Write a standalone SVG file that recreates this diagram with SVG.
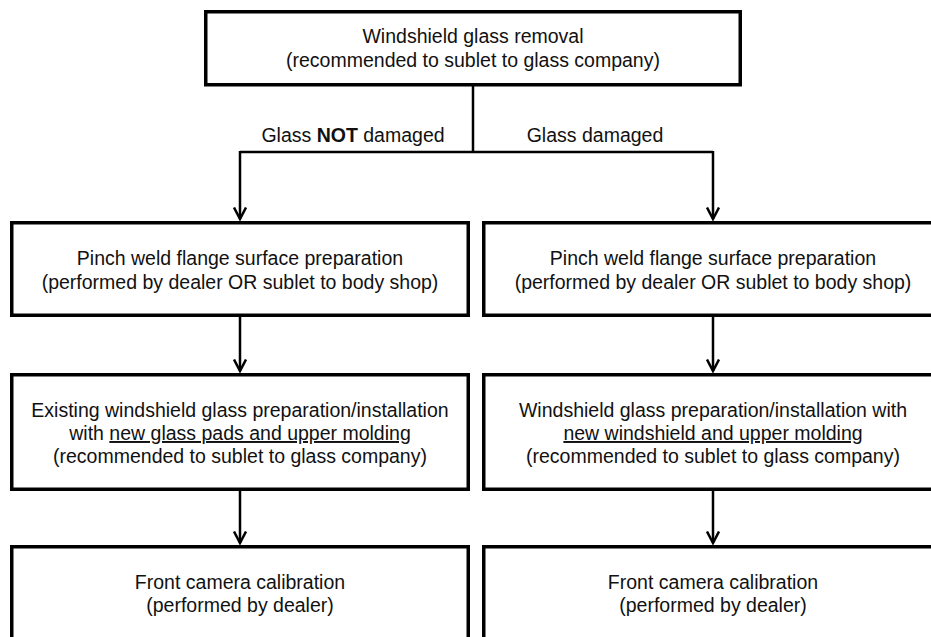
<svg xmlns="http://www.w3.org/2000/svg" width="931" height="637" viewBox="0 0 931 637">
<defs>
<style>
.box{fill:#fff;stroke:#000;stroke-width:3.5}
.t{font-family:"Liberation Sans",Arial,sans-serif;font-size:19.5px;fill:#111;text-anchor:middle}
.c{fill:none;stroke:#000;stroke-width:2.5}
.a{fill:none;stroke:#000;stroke-width:2.5;marker-end:url(#ah)}
</style>
<marker id="ah" viewBox="0 0 14 14" refX="12.5" refY="7" markerWidth="14" markerHeight="14" markerUnits="userSpaceOnUse" orient="auto">
<polyline points="1,1 12.5,7 1,13" fill="none" stroke="#000" stroke-width="2.5"/>
</marker>
</defs>
<rect width="931" height="637" fill="#fff"/>
<g id="connectors">
<path class="c" d="M473,86 V152"/>
<path class="c" d="M240,152 H713"/>
<path class="a" d="M240,151 V219"/>
<path class="a" d="M713,151 V219"/>
<path class="a" d="M240,317 V371"/>
<path class="a" d="M713,317 V371"/>
<path class="a" d="M240,491 V543"/>
<path class="a" d="M713,491 V543"/>
<text class="t" x="353" y="142">Glass <tspan font-weight="bold">NOT</tspan> damaged</text>
<text class="t" x="595" y="142">Glass damaged</text>
</g>
<g id="removal">
<rect class="box" x="205.75" y="11.75" width="534.5" height="73"/>
<text class="t" x="473" y="43">Windshield glass removal</text>
<text class="t" x="473" y="67">(recommended to sublet to glass company)</text>
</g>
<g id="pinch-left">
<rect class="box" x="11.75" y="222.75" width="456.5" height="92.5"/>
<text class="t" x="240" y="265">Pinch weld flange surface preparation</text>
<text class="t" x="240" y="289">(performed by dealer OR sublet to body shop)</text>
</g>
<g id="pinch-right">
<rect class="box" x="483.75" y="222.75" width="460" height="92.5"/>
<text class="t" x="713" y="265">Pinch weld flange surface preparation</text>
<text class="t" x="713" y="289">(performed by dealer OR sublet to body shop)</text>
</g>
<g id="install-left">
<rect class="box" x="11.75" y="374.75" width="456.5" height="114.5"/>
<text class="t" x="240" y="417">Existing windshield glass preparation/installation</text>
<text class="t" x="240" y="440">with <tspan text-decoration="underline">new glass pads and upper molding</tspan></text>
<text class="t" x="240" y="463">(recommended to sublet to glass company)</text>
</g>
<g id="install-right">
<rect class="box" x="483.75" y="374.75" width="460" height="114.5"/>
<text class="t" x="713" y="417">Windshield glass preparation/installation with</text>
<text class="t" x="713" y="440" text-decoration="underline">new windshield and upper molding</text>
<text class="t" x="713" y="463">(recommended to sublet to glass company)</text>
</g>
<g id="camera-left">
<rect class="box" x="11.75" y="546.75" width="456.5" height="100"/>
<text class="t" x="240" y="589">Front camera calibration</text>
<text class="t" x="240" y="612">(performed by dealer)</text>
</g>
<g id="camera-right">
<rect class="box" x="483.75" y="546.75" width="460" height="100"/>
<text class="t" x="713" y="589">Front camera calibration</text>
<text class="t" x="713" y="612">(performed by dealer)</text>
</g>
</svg>
